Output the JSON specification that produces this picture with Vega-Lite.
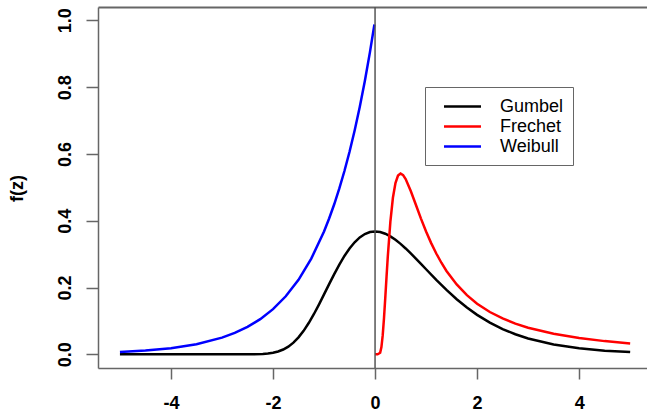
{
  "$schema": "https://vega.github.io/schema/vega-lite/v6.json",
  "width": 549,
  "height": 361,
  "autosize": {"type": "none"},
  "padding": {"left": 98, "top": 7, "right": 0, "bottom": 45},
  "background": "white",
  "config": {"view": {"stroke": null}, "font": "Liberation Sans"},
  "datasets": {
    "curves": [
      {"dist": "Gumbel", "z": -5, "f": 0},
      {"dist": "Gumbel", "z": -4, "f": 0},
      {"dist": "Gumbel", "z": -3, "f": 0},
      {"dist": "Gumbel", "z": -2.6, "f": 0.00002},
      {"dist": "Gumbel", "z": -2.4, "f": 0.00018},
      {"dist": "Gumbel", "z": -2.2, "f": 0.0011},
      {"dist": "Gumbel", "z": -2.1, "f": 0.0023},
      {"dist": "Gumbel", "z": -2.0, "f": 0.0046},
      {"dist": "Gumbel", "z": -1.9, "f": 0.0083},
      {"dist": "Gumbel", "z": -1.8, "f": 0.0143},
      {"dist": "Gumbel", "z": -1.7, "f": 0.0230},
      {"dist": "Gumbel", "z": -1.6, "f": 0.0350},
      {"dist": "Gumbel", "z": -1.5, "f": 0.0507},
      {"dist": "Gumbel", "z": -1.4, "f": 0.0703},
      {"dist": "Gumbel", "z": -1.3, "f": 0.0936},
      {"dist": "Gumbel", "z": -1.2, "f": 0.1200},
      {"dist": "Gumbel", "z": -1.1, "f": 0.1490},
      {"dist": "Gumbel", "z": -1.0, "f": 0.1794},
      {"dist": "Gumbel", "z": -0.9, "f": 0.2102},
      {"dist": "Gumbel", "z": -0.8, "f": 0.2403},
      {"dist": "Gumbel", "z": -0.7, "f": 0.2688},
      {"dist": "Gumbel", "z": -0.6, "f": 0.2946},
      {"dist": "Gumbel", "z": -0.5, "f": 0.3170},
      {"dist": "Gumbel", "z": -0.4, "f": 0.3356},
      {"dist": "Gumbel", "z": -0.3, "f": 0.3500},
      {"dist": "Gumbel", "z": -0.2, "f": 0.3601},
      {"dist": "Gumbel", "z": -0.1, "f": 0.3660},
      {"dist": "Gumbel", "z": 0.0, "f": 0.3679},
      {"dist": "Gumbel", "z": 0.1, "f": 0.3661},
      {"dist": "Gumbel", "z": 0.2, "f": 0.3611},
      {"dist": "Gumbel", "z": 0.3, "f": 0.3532},
      {"dist": "Gumbel", "z": 0.4, "f": 0.3429},
      {"dist": "Gumbel", "z": 0.5, "f": 0.3307},
      {"dist": "Gumbel", "z": 0.6, "f": 0.3170},
      {"dist": "Gumbel", "z": 0.7, "f": 0.3022},
      {"dist": "Gumbel", "z": 0.8, "f": 0.2867},
      {"dist": "Gumbel", "z": 0.9, "f": 0.2707},
      {"dist": "Gumbel", "z": 1.0, "f": 0.2547},
      {"dist": "Gumbel", "z": 1.2, "f": 0.2229},
      {"dist": "Gumbel", "z": 1.4, "f": 0.1927},
      {"dist": "Gumbel", "z": 1.6, "f": 0.1650},
      {"dist": "Gumbel", "z": 1.8, "f": 0.1401},
      {"dist": "Gumbel", "z": 2.0, "f": 0.1182},
      {"dist": "Gumbel", "z": 2.25, "f": 0.0949},
      {"dist": "Gumbel", "z": 2.5, "f": 0.0756},
      {"dist": "Gumbel", "z": 2.75, "f": 0.0600},
      {"dist": "Gumbel", "z": 3.0, "f": 0.0474},
      {"dist": "Gumbel", "z": 3.5, "f": 0.0293},
      {"dist": "Gumbel", "z": 4.0, "f": 0.0180},
      {"dist": "Gumbel", "z": 4.5, "f": 0.0110},
      {"dist": "Gumbel", "z": 5.0, "f": 0.0067},
      {"dist": "Frechet", "z": 0.0, "f": 0},
      {"dist": "Frechet", "z": 0.05, "f": 0},
      {"dist": "Frechet", "z": 0.1, "f": 0.0045},
      {"dist": "Frechet", "z": 0.125, "f": 0.0215},
      {"dist": "Frechet", "z": 0.15, "f": 0.0566},
      {"dist": "Frechet", "z": 0.175, "f": 0.1078},
      {"dist": "Frechet", "z": 0.2, "f": 0.1684},
      {"dist": "Frechet", "z": 0.225, "f": 0.2319},
      {"dist": "Frechet", "z": 0.25, "f": 0.2931},
      {"dist": "Frechet", "z": 0.3, "f": 0.3963},
      {"dist": "Frechet", "z": 0.35, "f": 0.4688},
      {"dist": "Frechet", "z": 0.4, "f": 0.5130},
      {"dist": "Frechet", "z": 0.45, "f": 0.5351},
      {"dist": "Frechet", "z": 0.5, "f": 0.5413},
      {"dist": "Frechet", "z": 0.55, "f": 0.5366},
      {"dist": "Frechet", "z": 0.6, "f": 0.5247},
      {"dist": "Frechet", "z": 0.7, "f": 0.4891},
      {"dist": "Frechet", "z": 0.8, "f": 0.4477},
      {"dist": "Frechet", "z": 0.9, "f": 0.4064},
      {"dist": "Frechet", "z": 1.0, "f": 0.3679},
      {"dist": "Frechet", "z": 1.1, "f": 0.3330},
      {"dist": "Frechet", "z": 1.2, "f": 0.3018},
      {"dist": "Frechet", "z": 1.3, "f": 0.2742},
      {"dist": "Frechet", "z": 1.4, "f": 0.2497},
      {"dist": "Frechet", "z": 1.6, "f": 0.2091},
      {"dist": "Frechet", "z": 1.8, "f": 0.1771},
      {"dist": "Frechet", "z": 2.0, "f": 0.1516},
      {"dist": "Frechet", "z": 2.25, "f": 0.1266},
      {"dist": "Frechet", "z": 2.5, "f": 0.1073},
      {"dist": "Frechet", "z": 2.75, "f": 0.0919},
      {"dist": "Frechet", "z": 3.0, "f": 0.0796},
      {"dist": "Frechet", "z": 3.5, "f": 0.0613},
      {"dist": "Frechet", "z": 4.0, "f": 0.0487},
      {"dist": "Frechet", "z": 4.5, "f": 0.0395},
      {"dist": "Frechet", "z": 5.0, "f": 0.0327},
      {"dist": "Weibull", "z": -5.0, "f": 0.0067},
      {"dist": "Weibull", "z": -4.5, "f": 0.0111},
      {"dist": "Weibull", "z": -4.0, "f": 0.0183},
      {"dist": "Weibull", "z": -3.5, "f": 0.0302},
      {"dist": "Weibull", "z": -3.0, "f": 0.0498},
      {"dist": "Weibull", "z": -2.75, "f": 0.0639},
      {"dist": "Weibull", "z": -2.5, "f": 0.0821},
      {"dist": "Weibull", "z": -2.25, "f": 0.1054},
      {"dist": "Weibull", "z": -2.0, "f": 0.1353},
      {"dist": "Weibull", "z": -1.75, "f": 0.1738},
      {"dist": "Weibull", "z": -1.5, "f": 0.2231},
      {"dist": "Weibull", "z": -1.25, "f": 0.2865},
      {"dist": "Weibull", "z": -1.0, "f": 0.3679},
      {"dist": "Weibull", "z": -0.9, "f": 0.4066},
      {"dist": "Weibull", "z": -0.8, "f": 0.4493},
      {"dist": "Weibull", "z": -0.7, "f": 0.4966},
      {"dist": "Weibull", "z": -0.6, "f": 0.5488},
      {"dist": "Weibull", "z": -0.5, "f": 0.6065},
      {"dist": "Weibull", "z": -0.4, "f": 0.6703},
      {"dist": "Weibull", "z": -0.3, "f": 0.7408},
      {"dist": "Weibull", "z": -0.2, "f": 0.8187},
      {"dist": "Weibull", "z": -0.1, "f": 0.9048},
      {"dist": "Weibull", "z": -0.0125, "f": 0.9876}
    ],
    "vline": [{"z": 0}]
  },
  "resolve": {"axis": {"x": "independent"}},
  "layer": [
    {
      "data": {"name": "curves"},
      "mark": {"type": "line", "strokeWidth": 2.5},
      "encoding": {
        "x": {
          "field": "z", "type": "quantitative",
          "scale": {"domain": [-5.43, 5.33], "nice": false, "zero": false},
          "axis": {
            "values": [-4, -2, 0, 2, 4], "title": null, "grid": false,
            "tickSize": 11, "tickColor": "#666", "tickWidth": 1.5,
            "domainColor": "#666", "domainWidth": 1.5,
            "labelFont": "Liberation Sans", "labelFontWeight": "bold", "labelFontSize": 18,
            "labelColor": "black", "labelPadding": 15, "labelFlush": false, "labelOverlap": false,
            "labelExpr": "datum.value < 0 ? '-' + abs(datum.value) : '' + datum.value"
          }
        },
        "y": {
          "field": "f", "type": "quantitative",
          "scale": {"domain": [-0.041, 1.04], "nice": false, "zero": false},
          "axis": {
            "values": [0, 0.2, 0.4, 0.6, 0.8, 1.0], "format": ".1f", "grid": false,
            "tickSize": 12, "tickColor": "#666", "tickWidth": 1.5,
            "domainColor": "#666", "domainWidth": 1.5,
            "labelFont": "Liberation Sans", "labelFontWeight": "bold", "labelFontSize": 18,
            "labelColor": "black", "labelAngle": 270, "labelAlign": "center", "labelBaseline": "bottom",
            "labelPadding": 12, "labelFlush": false, "labelOverlap": false,
            "title": "f(z)", "titleFont": "Liberation Sans", "titleFontWeight": "bold", "titleFontSize": 18,
            "titleColor": "black", "titleAngle": 270, "titleAlign": "center", "titleBaseline": "middle",
            "titleX": -81, "titleY": 181
          }
        },
        "color": {
          "field": "dist", "type": "nominal",
          "scale": {"domain": ["Gumbel", "Frechet", "Weibull"], "range": ["#000000", "#ff0000", "#0000ff"]},
          "legend": {
            "title": null, "orient": "none", "legendX": 327, "legendY": 80,
            "strokeColor": "#666", "padding": 9,
            "symbolType": "M-2,0H2", "symbolSize": 342, "symbolStrokeWidth": 2.5, "symbolOffset": 18,
            "labelFont": "Liberation Sans", "labelFontSize": 18, "labelColor": "black",
            "labelOffset": 27, "rowPadding": -3
          }
        }
      }
    },
    {
      "data": {"name": "vline"},
      "mark": {"type": "rule", "color": "#555", "strokeWidth": 1.5},
      "encoding": {
        "x": {
          "field": "z", "type": "quantitative",
          "scale": {"domain": [-5.43, 5.33], "nice": false, "zero": false},
          "axis": {"orient": "top", "ticks": false, "labels": false, "title": null, "grid": false,
                   "domainColor": "#666", "domainWidth": 2}
        }
      }
    }
  ]
}
